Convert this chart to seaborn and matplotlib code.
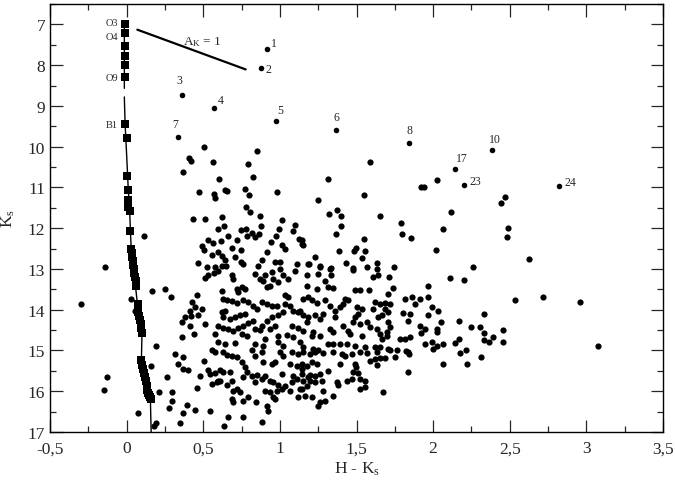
import numpy as np
import pandas as pd
import matplotlib
matplotlib.use("Agg")
import matplotlib.pyplot as plt
from matplotlib.ticker import MultipleLocator, FuncFormatter
import seaborn as sns

# ---------------- data ----------------
# field stars (H-Ks, Ks), grouped by region of the diagram
field_upper = [
    (0.37, 10.62), (0.603, 10.79), (0.827, 10.75), (0.472, 11.11), (0.57, 11.17), (0.575, 11.25),
    (0.645, 11.07), (0.655, 11.08), (0.773, 11.05), (0.799, 11.18), (0.983, 11.11), (0.779, 11.48),
    (0.807, 11.60), (0.868, 11.70), (0.433, 11.78), (0.514, 11.78), (0.62, 11.73), (1.016, 11.81),
    (0.598, 12.01), (0.637, 11.95), (0.746, 12.04), (0.781, 12.02), (0.816, 12.11), (0.866, 12.14),
    (0.784, 12.18), (0.838, 12.22), (0.877, 11.95), (0.994, 12.02), (1.083, 12.06), (1.10, 11.93),
    (0.664, 12.18), (0.507, 10.02), (0.41, 10.28), (0.42, 10.35), (0.561, 10.37), (0.789, 10.43),
    (0.848, 10.10), (0.113, 12.19),
    (1.316, 10.79), (2.023, 10.81), (1.92, 10.99), (1.94, 10.99), (1.251, 11.30), (1.551, 11.18),
    (1.375, 11.55), (1.321, 11.65), (1.401, 11.71), (1.653, 11.69), (1.789, 11.87), (1.401, 11.95),
    (2.067, 12.03), (1.366, 12.14), (1.80, 12.14), (1.856, 12.25), (1.551, 12.27), (1.142, 12.30),
    (1.153, 12.41), (1.588, 10.38), (2.467, 11.24), (2.445, 11.38), (2.115, 11.60), (2.491, 12.00),
    (2.484, 12.21),
]
field_band12 = [
    (0.529, 12.28), (0.562, 12.36), (0.614, 12.31), (0.718, 12.29), (0.942, 12.33), (0.975, 12.18),
    (0.494, 12.44), (0.507, 12.53), (0.555, 12.65), (0.594, 12.59), (0.625, 12.69), (0.642, 12.77),
    (0.686, 12.49), (0.746, 12.53), (1.012, 12.42), (1.034, 12.52), (1.125, 12.26), (1.142, 12.38),
    (0.914, 12.59), (0.707, 12.71), (0.464, 12.85), (0.523, 12.96), (0.577, 12.96), (0.62, 12.93),
    (0.649, 12.92), (0.746, 12.83), (0.86, 12.93), (0.886, 12.79), (0.968, 12.82), (1.0, 12.82),
    (1.11, 12.88), (1.186, 12.88), (1.388, 12.55), (1.497, 12.48), (1.484, 12.57), (1.556, 12.56),
    (2.019, 12.54), (1.227, 12.71), (1.538, 12.74), (1.192, 12.88), (1.262, 12.92), (1.332, 12.97),
    (1.432, 12.86), (1.479, 12.97), (1.571, 12.94), (1.636, 12.86), (1.745, 12.94), (2.624, 12.76),
    (-0.139, 12.95), (0.761, 12.88),
]
field_core_right = [
    (1.175, 13.16), (1.251, 13.12), (1.262, 12.96), (1.327, 13.0), (1.332, 13.14), (1.479, 13.02),
    (1.632, 13.0), (1.643, 13.16), (1.61, 13.20), (1.714, 13.20), (1.175, 13.41), (1.24, 13.49),
    (1.295, 13.29), (1.316, 13.45), (1.349, 13.47), (1.49, 13.51), (1.523, 13.51), (1.584, 13.51),
    (1.74, 13.47), (1.708, 13.62), (1.969, 13.43), (1.153, 13.73), (1.186, 13.69), (1.208, 13.77),
    (1.24, 13.84), (1.295, 13.77), (1.327, 13.90), (1.36, 14.02), (1.393, 13.94), (1.414, 13.86),
    (1.425, 13.73), (1.447, 13.76), (1.501, 13.94), (1.534, 13.98), (1.512, 14.10), (1.49, 14.18),
    (1.621, 13.82), (1.653, 13.86), (1.686, 13.84), (1.719, 13.87), (1.61, 13.98), (1.686, 13.98),
    (1.708, 14.06), (1.817, 13.73), (1.86, 13.69), (1.882, 13.86), (1.914, 13.73), (1.969, 13.69),
    (1.991, 13.94), (2.034, 14.02), (1.806, 14.08), (1.85, 14.10), (1.131, 14.02), (1.153, 14.14),
    (1.186, 14.18), (1.229, 14.14), (1.284, 14.10), (1.262, 14.23), (1.36, 14.18), (1.643, 14.18),
    (1.664, 14.14), (1.479, 14.31), (1.523, 14.35), (1.567, 14.31), (1.708, 14.31), (1.719, 14.43),
    (1.697, 14.55), (1.838, 14.27), (1.969, 14.14), (2.023, 14.47), (1.914, 14.39), (1.947, 14.47),
    (1.414, 14.39), (1.327, 14.47), (1.349, 14.55), (1.218, 14.55), (1.208, 14.64), (1.447, 14.51),
    (1.458, 14.59), (1.588, 14.43), (1.632, 14.47), (1.653, 14.59), (1.534, 14.64), (1.262, 14.64),
    (1.664, 14.72), (1.697, 14.64), (1.784, 14.72), (1.817, 14.72), (1.85, 14.68), (1.947, 14.84),
    (1.991, 14.80), (2.067, 14.84), (1.316, 14.84), (1.349, 14.84), (1.393, 14.84), (1.436, 14.84),
    (1.49, 14.88), (1.556, 14.92), (1.621, 14.92), (1.653, 14.92), (1.708, 14.96), (1.762, 14.98),
    (1.822, 15.02), (2.023, 14.88), (1.218, 14.96), (1.251, 15.0), (1.153, 14.92), (1.131, 14.80),
    (1.92, 14.58), (2.026, 14.55), (1.997, 14.97), (1.843, 15.08), (2.052, 14.29),
]
field_far_right = [
    (2.261, 12.96), (2.107, 13.21), (2.20, 13.27), (2.536, 13.75), (2.718, 13.69), (2.957, 13.82),
    (2.166, 14.27), (2.329, 14.10), (2.245, 14.43), (2.304, 14.43), (2.331, 14.58), (2.459, 14.50),
    (2.459, 14.80), (2.393, 14.68), (2.329, 14.74), (2.364, 14.80), (2.166, 14.73), (2.145, 14.81),
    (2.173, 15.05), (2.213, 14.99), (2.311, 15.16), (2.224, 15.32), (3.074, 14.89),
]
field_core_left = [
    (0.533, 13.16), (0.512, 13.22), (0.572, 13.10), (0.594, 13.05), (0.686, 13.16), (0.696, 13.24),
    (0.838, 13.12), (0.87, 13.24), (0.892, 13.29), (0.903, 13.16), (0.947, 13.08), (0.957, 13.24),
    (0.99, 13.32), (1.0, 13.0), (1.022, 13.16), (1.055, 13.24), (1.099, 13.04), (0.914, 13.45),
    (0.936, 13.41), (1.034, 13.65), (1.055, 13.69), (0.751, 13.45), (0.773, 13.49), (0.718, 13.49),
    (0.729, 13.57), (0.62, 13.53), (0.457, 13.65), (0.631, 13.73), (0.653, 13.76), (0.686, 13.79),
    (0.718, 13.84), (0.761, 13.77), (0.794, 13.82), (0.827, 13.90), (0.849, 13.98), (0.881, 13.82),
    (0.914, 13.86), (0.947, 13.92), (0.979, 13.90), (1.034, 13.86), (1.066, 13.92), (1.088, 14.02),
    (1.023, 14.06), (0.99, 14.14), (0.947, 14.18), (0.914, 14.27), (0.881, 14.39), (1.12, 14.06),
    (0.425, 13.82), (0.446, 13.94), (0.414, 14.02), (0.49, 13.98), (0.468, 14.14), (0.381, 14.18),
    (0.36, 14.31), (0.42, 14.15), (0.62, 14.06), (0.642, 14.02), (0.631, 14.18), (0.675, 14.23),
    (0.707, 14.17), (0.74, 14.14), (0.773, 14.10), (0.598, 14.39), (0.631, 14.45), (0.664, 14.47),
    (0.696, 14.51), (0.729, 14.45), (0.761, 14.39), (0.794, 14.33), (0.827, 14.27), (0.512, 14.35),
    (0.414, 14.39), (0.577, 14.59), (0.751, 14.59), (0.784, 14.64), (0.838, 14.47), (0.87, 14.50),
    (0.936, 14.47), (0.968, 14.41), (1.077, 14.41), (1.12, 14.45), (0.99, 14.64), (1.045, 14.61),
    (1.088, 14.66), (0.36, 14.68), (0.442, 14.59), (0.598, 14.80), (0.642, 14.84), (0.707, 14.82),
    (0.838, 14.84), (0.903, 14.72), (0.892, 14.88), (0.99, 14.80), (1.022, 14.88), (0.25, 13.49),
    (0.555, 15.0), (0.577, 15.04), (1.175, 14.31), (1.153, 14.51),
]
field_blue_side = [
    (-0.295, 13.85), (0.026, 13.73), (0.052, 14.04), (0.165, 13.55), (0.29, 13.69), (-0.128, 15.66),
    (-0.147, 15.96), (0.193, 14.90), (0.156, 15.38), (0.074, 16.54), (0.208, 16.03), (0.193, 16.79),
    (0.178, 16.85),
]
field_lower_left = [
    (0.316, 15.08), (0.37, 15.17), (0.337, 15.33), (0.37, 15.45), (0.403, 15.47), (0.507, 15.27),
    (0.479, 15.62), (0.262, 15.66), (0.457, 15.93), (0.298, 16.03), (0.298, 16.23), (0.276, 16.42),
    (0.392, 16.34), (0.37, 16.53), (0.446, 16.45), (0.544, 16.48), (0.348, 16.78), (0.529, 15.47),
    (0.544, 15.58), (0.577, 15.55), (0.594, 15.74), (0.61, 15.47), (0.631, 15.53), (0.555, 15.82),
    (0.588, 15.78), (0.61, 15.76), (0.675, 15.53), (0.686, 15.74), (0.653, 15.85), (0.696, 15.99),
    (0.718, 15.95), (0.74, 16.03), (0.686, 16.19), (0.696, 16.27), (0.761, 16.23), (0.794, 16.15),
    (0.842, 16.26), (0.664, 16.64), (0.761, 16.64), (0.637, 16.86), (0.886, 16.75), (0.914, 16.35),
    (0.925, 16.48), (0.957, 16.15), (0.968, 16.19), (0.631, 15.04), (0.653, 15.11), (0.686, 15.13),
    (0.718, 15.17), (0.751, 15.29), (0.773, 15.41), (0.784, 15.53), (0.761, 15.66), (0.816, 15.62),
    (0.849, 15.60), (0.881, 15.70), (0.838, 15.78), (0.903, 15.62), (0.936, 15.74), (0.957, 15.78),
    (0.99, 15.85), (0.892, 15.29), (0.947, 15.33), (1.012, 15.58), (1.066, 15.33), (1.088, 15.62),
    (0.903, 15.99), (0.936, 16.03), (0.979, 15.99), (1.012, 15.95), (1.034, 15.87), (1.066, 15.99),
    (1.077, 15.78), (1.11, 15.70), (1.12, 16.15), (1.142, 15.95), (1.175, 15.87), (0.838, 15.13),
    (0.816, 15.0), (0.881, 15.04), (0.968, 15.29), (1.022, 15.13), (1.0, 15.04), (1.077, 15.04),
    (1.12, 15.08), (1.11, 15.37), (1.142, 15.45), (1.182, 15.66),
]
field_lower_right = [
    (1.153, 15.04), (1.197, 15.08), (1.229, 15.03), (1.284, 15.06), (1.349, 15.04), (1.404, 15.08),
    (1.425, 15.14), (1.469, 15.08), (1.523, 15.03), (1.567, 15.06), (1.632, 15.04), (1.686, 15.19),
    (1.719, 15.0), (1.751, 15.17), (1.838, 15.04), (1.588, 15.25), (1.621, 15.21), (1.653, 15.19),
    (1.636, 15.36), (2.067, 15.33), (1.838, 15.52), (1.142, 15.33), (1.175, 15.37), (1.208, 15.29),
    (1.24, 15.33), (1.393, 15.33), (1.49, 15.33), (1.316, 15.50), (1.479, 15.52), (1.512, 15.55),
    (1.142, 15.58), (1.197, 15.60), (1.229, 15.62), (1.262, 15.58), (1.153, 15.74), (1.197, 15.74),
    (1.229, 15.78), (1.273, 15.74), (1.371, 15.78), (1.381, 15.85), (1.436, 15.74), (1.469, 15.70),
    (1.523, 15.70), (1.556, 15.74), (1.556, 15.90), (1.523, 15.94), (1.131, 15.94), (1.164, 16.11),
    (1.208, 16.15), (1.279, 15.99), (1.349, 16.11), (1.262, 16.27), (1.295, 16.23), (1.251, 16.35),
    (1.671, 16.01), (1.499, 15.40),
]

# labelled bright stars
star_ids = ["1", "2", "3", "4", "5", "6", "7", "8", "10", "17", "23", "24"]
star_hk = [0.914, 0.88, 0.36, 0.572, 0.975, 1.366, 0.333, 1.84, 2.382, 2.141, 2.204, 2.823]
star_k = [7.60, 8.06, 8.74, 9.05, 9.37, 9.585, 9.76, 9.905, 10.08, 10.55, 10.95, 10.97]

# main sequence (squares) and its locus line
ms_hk = [-0.012, -0.012, -0.012, -0.012, -0.012, -0.012, -0.01, 0.0, 0.0, 0.01, 0.01, 0.012, 0.02, 0.022,
         0.028, 0.032, 0.036, 0.04, 0.043, 0.047, 0.05, 0.054, 0.058, 0.062, 0.072,
         0.076, 0.081, 0.086, 0.091, 0.096, 0.102, 0.094,
         0.1, 0.106, 0.112, 0.118, 0.124, 0.13, 0.136, 0.142, 0.147, 0.152, 0.156]
ms_k = [7.0, 7.22, 7.53, 7.78, 8.0, 8.3, 9.45, 9.79, 10.73, 11.06, 11.3, 11.47, 11.59, 12.08,
        12.5, 12.6, 12.7, 12.8, 12.9, 13.0, 13.1, 13.2, 13.3, 13.42, 13.86,
        14.05, 14.15, 14.25, 14.35, 14.45, 14.57, 15.24,
        15.36, 15.46, 15.56, 15.66, 15.76, 15.86, 15.96, 16.04, 16.1, 16.15, 16.19]
sp_types = ["O3", "O4", "O9", "B1"]
sp_hk = [-0.012, -0.012, -0.012, -0.01]
sp_k = [7.0, 7.22, 8.3, 9.45]

ms_line_hk = [-0.015, -0.015, np.nan, -0.015, -0.01, 0.0, 0.01, 0.02, 0.025, 0.03, 0.06, 0.07, 0.1, 0.096, 0.155, 0.16]
ms_line_k = [6.93, 8.57, np.nan, 8.78, 9.45, 10.2, 11.0, 11.6, 12.1, 12.5, 13.5, 13.85, 14.6, 15.3, 16.2, 17.0]

# reddening vector A_K = 1
av_hk = [0.07, 0.777]
av_k = [7.13, 8.105]

# ---------------- plotting ----------------
sns.set_style("ticks")
plt.rcParams["font.family"] = ["Liberation Serif", "DejaVu Serif"]
plt.rcParams["mathtext.fontset"] = "custom"
plt.rcParams["mathtext.rm"] = "Liberation Serif"
plt.rcParams["mathtext.it"] = "Liberation Serif:italic"

fig = plt.figure(figsize=(6.75, 4.81), dpi=100)
ax = fig.add_axes([0.0741, 0.0998, 0.9081, 0.8898])

groups = [field_upper, field_band12, field_core_right, field_far_right,
          field_core_left, field_blue_side, field_lower_left, field_lower_right]
pts = [p for g in groups for p in g]
df = pd.DataFrame(pts, columns=["hk", "ks"])
sns.scatterplot(data=df, x="hk", y="ks", color="black", s=20, linewidth=0, ax=ax, zorder=3)

stars = pd.DataFrame({"hk": star_hk, "ks": star_k, "id": star_ids})
sns.scatterplot(data=stars, x="hk", y="ks", color="black", s=16, linewidth=0, ax=ax, zorder=3)
label_offsets = {"1": (5, 4), "2": (5, -1), "3": (-2, 11), "4": (5, 6), "5": (3, 8), "6": (0, 9),
                 "7": (-2, 9), "8": (1, 9), "10": (2, 8), "17": (5, 8), "23": (8, 3), "24": (8, 3)}
for sid, x, y in zip(star_ids, star_hk, star_k):
    ax.annotate(sid, (x, y), xytext=label_offsets[sid], textcoords="offset points",
                ha="center", va="center", fontsize=8.5)

# main sequence
ms_line = pd.DataFrame({"hk": ms_line_hk, "ks": ms_line_k})
ax.plot(ms_line["hk"], ms_line["ks"], color="black", lw=1.0, zorder=2)
ms = pd.DataFrame({"hk": ms_hk, "ks": ms_k})
sns.scatterplot(data=ms, x="hk", y="ks", color="black", marker="s", s=26, linewidth=0, ax=ax, zorder=4)
sp_offsets = {"O3": (-5, 1.5), "O4": (-5, -2.0), "O9": (-5, 0), "B1": (-5, 0)}
for t, x, y in zip(sp_types, sp_hk, sp_k):
    ax.annotate(t, (x, y), xytext=sp_offsets[t], textcoords="offset points",
                ha="right", va="center", fontsize=7.5)

# reddening vector
ax.plot(av_hk, av_k, color="black", lw=1.6, zorder=2)
ax.text(0.37, 7.42, r"A$_{\rm K}$ = 1", fontsize=9.5, ha="left", va="center")

ax.set_xlim(-0.5, 3.5)
ax.set_ylim(17, 6.5)
ax.xaxis.set_major_locator(MultipleLocator(0.5))
ax.xaxis.set_minor_locator(MultipleLocator(0.25))
ax.yaxis.set_major_locator(MultipleLocator(1))
ax.yaxis.set_minor_locator(MultipleLocator(0.5))
fmt = FuncFormatter(lambda v, pos: f"{v:g}".replace(".", ","))
ax.xaxis.set_major_formatter(fmt)
ax.yaxis.set_major_formatter(FuncFormatter(lambda v, pos: f"{v:g}"))
ax.tick_params(which="both", direction="in", top=True, right=True, width=0.9, labelsize=12.5)
ax.tick_params(which="major", length=9)
ax.tick_params(which="minor", length=4.5)
ax.tick_params(axis="x", which="major", pad=6)
for s in ax.spines.values():
    s.set_linewidth(1.0)
    s.set_color("black")

ax.set_xlabel(r"H - K$_{\rm s}$", fontsize=12.5, labelpad=2)
ax.set_ylabel(r"K$_{\rm s}$", fontsize=12.5, labelpad=8)

fig.savefig("out.png", dpi=100, facecolor="white")
